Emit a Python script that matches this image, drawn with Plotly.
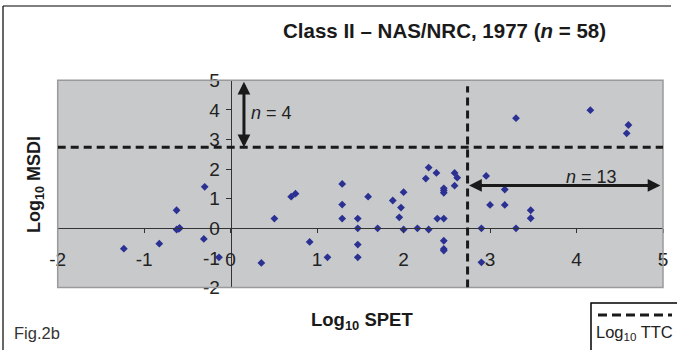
import plotly.graph_objects as go

# ---- data ----
spet = [-1.235, -0.825, -0.625, -0.625, -0.59, -0.60, -0.30, -0.31, -0.135,
        0.355, 0.506, 0.70, 0.75, 0.914, 1.12, 1.29, 1.29, 1.29,
        1.47, 1.47, 1.47, 1.47, 1.59, 1.70, 1.875, 1.97, 1.95, 2.0, 2.0,
        2.16, 2.257, 2.29, 2.29, 2.38, 2.39,
        2.465, 2.465, 2.465, 2.465, 2.465, 2.465, 2.465,
        2.59, 2.62, 2.59,
        2.90, 2.90, 2.955, 3.0, 3.17, 3.17, 3.30, 3.30, 3.47, 3.47, 4.16, 4.60, 4.58]
msdi = [-0.69, -0.52, 0.61, -0.04, 0.01, -0.02, 1.40, -0.36, -0.98,
        -1.17, 0.33, 1.07, 1.17, -0.46, -0.98, 1.50, 0.80, 0.33,
        0.33, 0.0, -0.55, -0.98, 1.07, 0.0, 0.94, 0.70, 0.37, 1.22, -0.04,
        0.0, 1.68, 2.05, -0.04, 1.87, 0.33,
        1.35, 1.28, 1.20, 0.33, -0.42, -0.70, -0.75,
        1.87, 1.71, 1.44,
        0.0, -1.15, 1.77, 0.79, 1.31, 0.79, 3.72, 0.0, 0.61, 0.34, 3.99, 3.49, 3.21]

ttc = 2.74                      # Log10 TTC threshold (both axes)
x_ticks = [-2, -1, 0, 1, 2, 3, 4, 5]
y_ticks = [-2, -1, 0, 1, 2, 3, 4, 5]
x_range = [-2, 5]
y_range = [-2, 5]

title = "<b>Class II – NAS/NRC, 1977 (<i>n</i> = 58)</b>"
x_title = "<b>Log<sub>10</sub> SPET</b>"
y_title = "<b>Log<sub>10</sub> MSDI</b>"
legend_label = "Log<sub>10</sub> TTC"
fig_label = "Fig.2b"

# ---- layout geometry ----
W, H = 677, 350
xd = [57.7 / W, 663 / W]
yd = [1 - 287.5 / H, 1 - 80.3 / H]
def px(v):
    return v / W
def py(v):
    return 1 - v / H

xpos_axis = yd[0] + (0 - y_range[0]) / (y_range[1] - y_range[0]) * (yd[1] - yd[0])
ypos_axis = xd[0] + (0 - x_range[0]) / (x_range[1] - x_range[0]) * (xd[1] - xd[0])

FONT = "Liberation Sans, Arial, sans-serif"
DARK = "#1a1a1a"

fig = go.Figure()
fig.add_trace(go.Scatter(
    x=spet, y=msdi, mode="markers",
    marker=dict(symbol="diamond", size=6, color="#2b3193", line=dict(width=0)),
    showlegend=False, hoverinfo="x+y"))

fig.update_layout(
    width=W, height=H,
    margin=dict(l=0, r=0, t=0, b=0),
    paper_bgcolor="white",
    plot_bgcolor="#c8c9cb",
    font=dict(family=FONT, color=DARK),
    showlegend=False,
    xaxis=dict(domain=xd, range=x_range, tickvals=x_ticks,
               ticktext=[str(t) for t in x_ticks],
               anchor="free", position=xpos_axis,
               showline=True, linecolor="#333", linewidth=1,
               ticks="outside", ticklen=4, tickcolor="#333",
               showgrid=False, zeroline=False,
               tickfont=dict(size=19, color="#222"),
               ticklabelstandoff=10, automargin=False, fixedrange=True),
    yaxis=dict(domain=yd, range=y_range, tickvals=y_ticks,
               ticktext=[str(t) for t in y_ticks],
               anchor="free", position=ypos_axis,
               showline=True, linecolor="#333", linewidth=1,
               ticks="outside", ticklen=5, tickcolor="#333",
               showgrid=False, zeroline=False,
               tickfont=dict(size=19, color="#222"),
               ticklabelstandoff=2, automargin=False, fixedrange=True),
)

shapes = [
    # plot area border
    dict(type="rect", xref="x domain", yref="y domain", x0=0, x1=1, y0=0, y1=1,
         line=dict(color="#9a9a9a", width=1.5), layer="above"),
    # TTC dashed lines
    dict(type="line", xref="x", yref="y", x0=x_range[0], x1=x_range[1], y0=ttc, y1=ttc,
         line=dict(color=DARK, width=3, dash="8px,5px")),
    dict(type="line", xref="x", yref="y", x0=ttc, x1=ttc, y0=y_range[0], y1=y_range[1] - 0.2,
         line=dict(color=DARK, width=3, dash="8px,5px")),
    # outer frame
    dict(type="line", xref="paper", yref="paper", x0=px(3), x1=px(3), y0=0, y1=py(6),
         line=dict(color="black", width=1.2)),
    dict(type="line", xref="paper", yref="paper", x0=px(3), x1=px(671), y0=py(6), y1=py(6),
         line=dict(color="black", width=1.2)),
    # legend box
    dict(type="rect", xref="paper", yref="paper", x0=px(591), x1=px(680), y0=py(352), y1=py(303),
         line=dict(color="black", width=1.5), fillcolor="white"),
    dict(type="line", xref="paper", yref="paper", x0=px(598), x1=px(672), y0=py(315), y1=py(315),
         line=dict(color=DARK, width=3, dash="9px,5px")),
]
fig.update_layout(shapes=shapes)

ann = [
    dict(text=title, x=px(444), y=py(31), xref="paper", yref="paper", showarrow=False,
         xanchor="center", yanchor="middle", font=dict(size=20.5, color=DARK)),
    dict(text=x_title, x=px(362), y=py(321), xref="paper", yref="paper", showarrow=False,
         xanchor="center", yanchor="middle", font=dict(size=18.5, color=DARK)),
    dict(text=y_title, x=px(35), y=py(185), xref="paper", yref="paper", showarrow=False,
         textangle=-90, xanchor="center", yanchor="middle", font=dict(size=18, color=DARK)),
    dict(text=fig_label, x=px(12), y=py(333), xref="paper", yref="paper", showarrow=False,
         xanchor="left", yanchor="middle", font=dict(size=16.5, color="#333")),
    dict(text=legend_label, x=px(634), y=py(333), xref="paper", yref="paper", showarrow=False,
         xanchor="center", yanchor="middle", font=dict(size=16.5, color="#222")),
    # double arrows
    dict(x=0.154, y=ttc, ax=0.154, ay=y_range[1], xref="x", yref="y", axref="x", ayref="y",
         text="", showarrow=True, arrowhead=2, startarrowhead=2, arrowside="end+start",
         arrowwidth=3, arrowsize=0.85, startarrowsize=0.85, arrowcolor=DARK),
    dict(x=4.97, y=1.45, ax=ttc, ay=1.45, xref="x", yref="y", axref="x", ayref="y",
         text="", showarrow=True, arrowhead=2, startarrowhead=2, arrowside="end+start",
         arrowwidth=3, arrowsize=0.85, startarrowsize=0.85, arrowcolor=DARK),
    dict(text="<i>n</i> = 4", x=0.21, y=3.9, xref="x", yref="y", showarrow=False,
         xanchor="left", yanchor="middle", font=dict(size=18, color="#222")),
    dict(text="<i>n</i> = 13", x=4.175, y=1.74, xref="x", yref="y", showarrow=False,
         xanchor="center", yanchor="middle", font=dict(size=18, color="#222")),
]
fig.update_layout(annotations=ann)

fig.write_html("out.html")
